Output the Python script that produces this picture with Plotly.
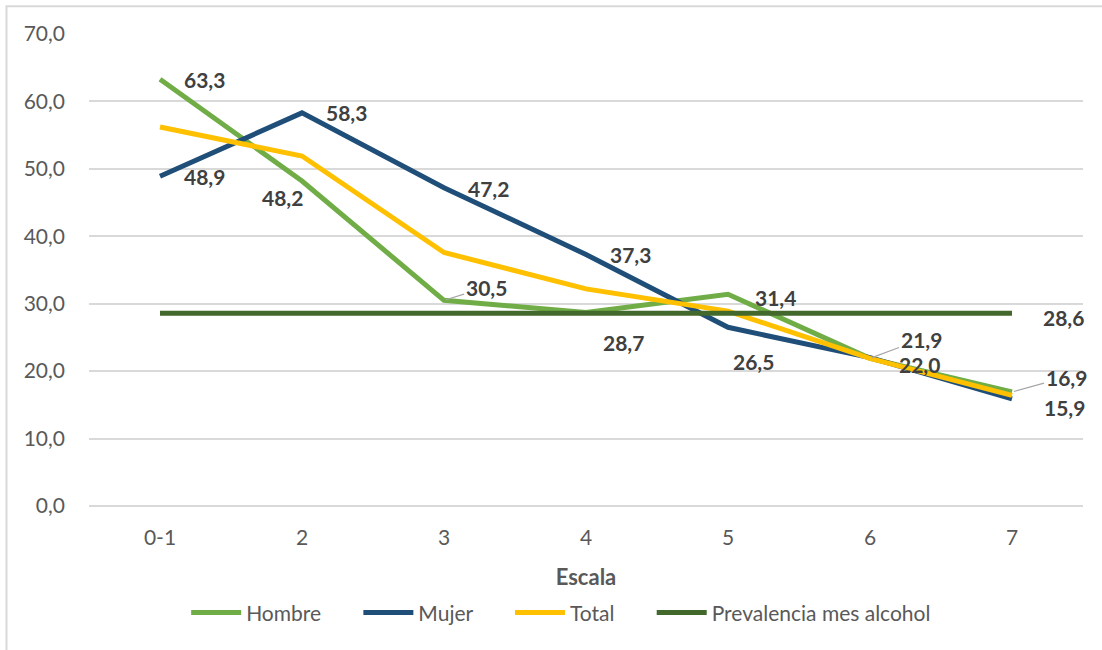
import plotly.graph_objects as go

categories = ["0-1", "2", "3", "4", "5", "6", "7"]
hombre = [63.3, 48.2, 30.5, 28.7, 31.4, 21.9, 16.9]
mujer = [48.9, 58.3, 47.2, 37.3, 26.5, 22.0, 15.9]
total = [56.2, 51.9, 37.6, 32.2, 28.9, 21.9, 16.4]
prevalencia = [28.6, 28.6, 28.6, 28.6, 28.6, 28.6, 28.6]
y_ticks = [0, 10, 20, 30, 40, 50, 60, 70]

C_H = "#70AD47"
C_M = "#1F4E79"
C_T = "#FFC000"
C_P = "#43682B"
TXT = "#404040"
GRAY = "#595959"
FONT = "Lato"
PAD = "\u00a0" * 6

fig = go.Figure()
series_defs = [("Hombre", hombre, C_H), ("Mujer", mujer, C_M),
               ("Total", total, C_T), ("Prevalencia mes alcohol", prevalencia, C_P)]
for k, (name, vals, col) in enumerate(series_defs):
    label = name + (PAD if k < len(series_defs) - 1 else "")
    fig.add_trace(go.Scatter(x=list(range(len(categories))), y=vals, mode="lines", name=label,
                             line=dict(color=col, width=5)))

# label offsets (pixels) for each labelled point: (series, index, dx, dy, leader)
label_specs = [
    (hombre, 0, 44, 0, False), (mujer, 0, 44, 0, False),
    (mujer, 1, 44, 0, False), (hombre, 1, -20, -17, False),
    (mujer, 2, 44, -1, False), (hombre, 2, 42, 13, True),
    (mujer, 3, 44, 0, False), (hombre, 3, 37, -30, False),
    (hombre, 4, 47, -3, False), (mujer, 4, 25, -34, False),
    (hombre, 5, 51, 19, True), (mujer, 5, 49, -7, False),
    (hombre, 6, 54, 15, True), (mujer, 6, 52, -9, False),
    (prevalencia, 6, 51, -4, False),
]
LBL = dict(family=FONT, size=21, color=TXT, weight="bold")
for series, i, dx, dy, leader in label_specs:
    txt = f"{series[i]:.1f}".replace(".", ",")
    if leader:
        fig.add_annotation(x=i, y=series[i], text=txt, showarrow=True,
                           ax=dx, ay=-dy, arrowhead=0, arrowwidth=1.2,
                           arrowcolor="#A6A6A6", standoff=2, font=LBL)
    else:
        fig.add_annotation(x=i, y=series[i], text=txt, showarrow=False,
                           xshift=dx, yshift=dy, font=LBL)

# chart border
fig.add_shape(type="rect", xref="paper", yref="paper",
              x0=-0.083, x1=1.03, y0=-0.33, y1=1.059,
              line=dict(color="#D9D9D9", width=2), layer="below")

fig.update_layout(
    width=1102, height=650,
    margin=dict(l=89, r=19, t=34, b=144, autoexpand=False),
    paper_bgcolor="white", plot_bgcolor="white",
    separators=",.",
    font=dict(family=FONT, color=GRAY, size=19),
    showlegend=True,
    legend=dict(orientation="h", x=0.475, xanchor="center", y=-0.183, yanchor="top",
                font=dict(family=FONT, size=21, color=GRAY), traceorder="normal",
                itemwidth=50),
    xaxis=dict(range=[-0.5, 6.5], tickvals=list(range(len(categories))),
               ticktext=categories, showgrid=False, showline=False, zeroline=False,
               automargin=False,
               ticks="outside", ticklen=13, tickcolor="rgba(0,0,0,0)",
               tickfont=dict(family=FONT, size=21, color=GRAY),
               title=dict(text="<b>Escala</b>", font=dict(family=FONT, size=22, color=GRAY),
                          standoff=21)),
    yaxis=dict(range=[0, 70], tickvals=y_ticks, tickformat=".1f",
               showgrid=True, gridcolor="#D9D9D9", gridwidth=1.5,
               zeroline=True, zerolinecolor="#D9D9D9", zerolinewidth=1.5,
               showline=False, ticklabelstandoff=23, automargin=False,
               tickfont=dict(family=FONT, size=21, color=GRAY)),
)

fig.write_html("out.html", config={"displayModeBar": False},
               post_script="document.body.style.margin='0px';")
